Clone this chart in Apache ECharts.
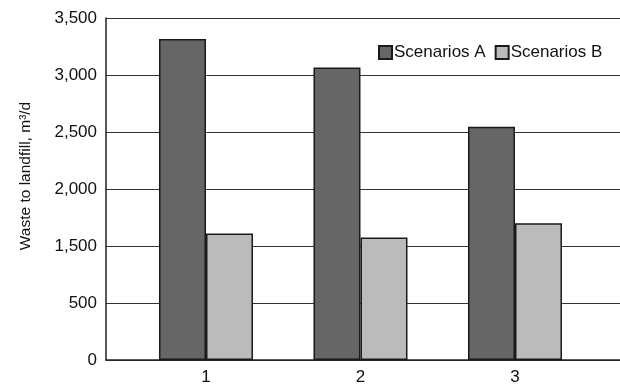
<!DOCTYPE html>
<html>
<head>
<meta charset="utf-8">
<script src="https://cdn.jsdelivr.net/npm/echarts@6/dist/echarts.min.js"></script>
<style>
html,body{margin:0;padding:0;background:#fff;}
#c{width:620px;height:386px;}
</style>
</head>
<body>
<div id="c"></div>
<script>
// Data
const categories = [1, 2, 3];
const scenariosA = [3315, 3065, 2545];
const scenariosB = [1610, 1575, 1700];
const seriesNames = ['Scenarios A', 'Scenarios B'];
const yTickLabels = [0, 500, 1500, 2000, 2500, 3000, 3500];
const yTitle = 'Waste to landfill, m³/d';

const FONT = '"Liberation Sans", Arial, sans-serif';
const chart = echarts.init(document.getElementById('c'), null, {renderer: 'canvas'});

function pairs(vals) { return categories.map((c, i) => [c, vals[i]]); }

chart.setOption({
  animation: false,
  backgroundColor: '#ffffff',
  textStyle: {fontFamily: FONT},
  grid: {left: 106, right: 0, top: 18, bottom: 26, containLabel: false},
  legend: {
    show: true,
    left: 373, top: 39,
    itemWidth: 13, itemHeight: 13, itemGap: 9,
    icon: 'rect',
    textStyle: {fontFamily: FONT, fontSize: 17, color: '#111', padding: [0, 0, 0, -3]},
    data: seriesNames
  },
  xAxis: {
    type: 'value',
    min: 0.3528, max: 3.6797,
    axisLine: {show: true, lineStyle: {color: '#222', width: 1.5}},
    axisTick: {show: false},
    splitLine: {show: false},
    axisLabel: {
      customValues: categories,
      fontFamily: FONT, fontSize: 17, color: '#111', margin: 9,
      formatter: v => String(Math.round(v))
    }
  },
  yAxis: [
    {
      // data axis: broken between 500 and 1,500 as in the reference labels
      type: 'value',
      min: 0, max: 3500, interval: 500,
      breaks: [{start: 500, end: 1500, gap: 500}],
      breakArea: {show: false},
      name: yTitle,
      nameLocation: 'middle',
      nameGap: 72,
      nameTextStyle: {fontFamily: FONT, fontSize: 15.5, color: '#111', padding: [0, 0, 0, 26]},
      axisLine: {show: false},
      axisTick: {show: false},
      splitLine: {show: false},
      axisLabel: {
        customValues: yTickLabels,
        fontFamily: FONT, fontSize: 17, color: '#111', margin: 9,
        formatter: v => Number(v).toLocaleString('en-US')
      }
    },
    {
      // line-only axis: continuous axis line and evenly spaced grid lines
      type: 'value',
      position: 'left',
      min: 0, max: 3000, interval: 500,
      axisLine: {show: true, lineStyle: {color: '#222', width: 1.5}},
      axisTick: {show: false},
      axisLabel: {show: false},
      splitLine: {show: true, lineStyle: {color: '#333', width: 1}}
    }
  ],
  series: [
    {
      name: seriesNames[0], type: 'bar', barWidth: 47, barGap: '0%', yAxisIndex: 0,
      data: pairs(scenariosA),
      itemStyle: {color: '#666666', borderColor: '#1a1a1a', borderWidth: 1.5}
    },
    {
      name: seriesNames[1], type: 'bar', barWidth: 47, barGap: '0%', yAxisIndex: 0,
      data: pairs(scenariosB),
      itemStyle: {color: '#bbbbbb', borderColor: '#1a1a1a', borderWidth: 1.5}
    }
  ]
});
</script>
</body>
</html>
